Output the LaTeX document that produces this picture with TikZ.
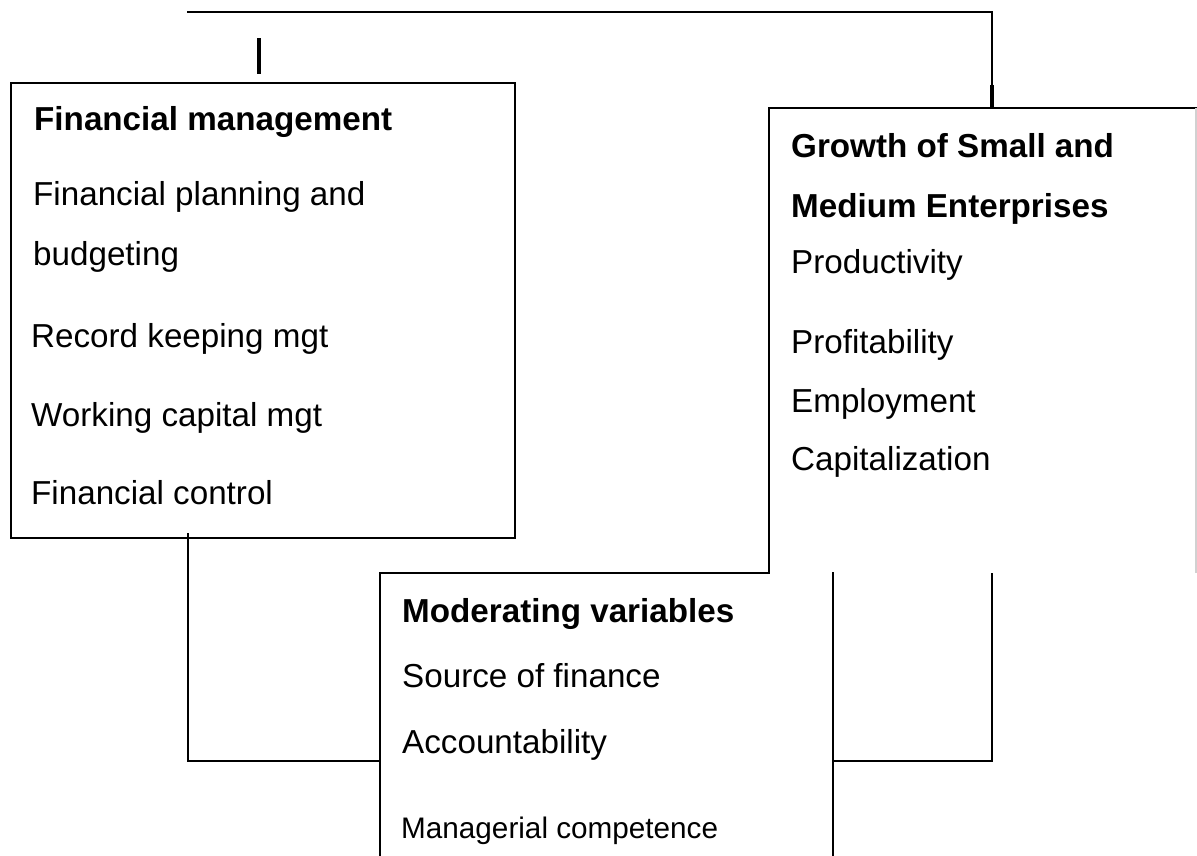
\documentclass[tikz,border=0pt]{standalone}
\usepackage{fontspec}
\setmainfont{Liberation Sans}
\begin{document}
\begin{tikzpicture}[x=1pt,y=-1pt,
  every node/.style={inner sep=0pt,anchor=base west},
  txt/.style={font=\fontsize{33.2}{38}\selectfont},
  head/.style={font=\fontsize{33.2}{38}\selectfont\bfseries},
  small/.style={font=\fontsize{29.7}{35}\selectfont},
  edge/.style={line width=2pt,line cap=rect},
  bar/.style={line width=4pt},
  faint/.style={line width=2pt,draw=black!18}]
\useasboundingbox (0,0) rectangle (1197,855);

% box corners
\coordinate (fmTL) at (11,83);
\coordinate (fmBR) at (515,538);
\coordinate (gTL) at (769,108);
\coordinate (gTR) at (1196,108);
\coordinate (gBL) at (769,573);
\coordinate (gBR) at (1196,573);
\coordinate (mTL) at (380,573);
\coordinate (mBL) at (380,855);
\coordinate (mTR) at (833,573);
\coordinate (mBR) at (833,855);

% Financial management box
\draw[edge] (fmTL) rectangle (fmBR);
\node[head] (fm0) at (34,130) {Financial management};
\node[txt]  (fm1) at (33,205) {Financial planning and};
\node[txt]  (fm2) at (33,265) {budgeting};
\node[txt]  (fm3) at (31,347) {Record keeping mgt};
\node[txt]  (fm4) at (31,426) {Working capital mgt};
\node[txt]  (fm5) at (31,504) {Financial control};

% Growth of SMEs box
\draw[edge] (gBL) -- (gTL) -- (gTR);
\draw[faint] (gTR) -- (gBR);
\node[head] (g0) at (791,157) {Growth of Small and};
\node[head] (g1) at (791,217) {Medium Enterprises};
\node[txt]  (g2) at (791,273) {Productivity};
\node[txt]  (g3) at (791,353) {Profitability};
\node[txt]  (g4) at (791,412) {Employment};
\node[txt]  (g5) at (791,470) {Capitalization};

% Moderating variables box
\draw[edge] (mBL) -- (mTL) -- (gBL);
\draw[edge] (mTR) -- (mBR);
\node[head] (m0) at (402,622) {Moderating variables};
\node[txt]  (m1) at (402,687) {Source of finance};
\node[txt]  (m2) at (402,753) {Accountability};
\node[small] (m3) at (401,838) {Managerial competence};

% connectors
\coordinate (topL) at (188,12);
\coordinate (topR) at (992,12);
\coordinate (gIn) at (992,108);
\coordinate (gInBar) at (992,85);
\draw[edge] (topL) -- (topR) -- (gIn);
\draw[bar] (gInBar) -- (gIn);

\coordinate (fmOut) at (188,534);
\coordinate (fmLow) at (188,761);
\coordinate (mInL) at (380,761);
\draw[edge] (fmOut) -- (fmLow) -- (mInL);

\coordinate (mOutR) at (833,761);
\coordinate (rLow) at (992,761);
\coordinate (rTop) at (992,574);
\draw[edge] (mOutR) -- (rLow) -- (rTop);

% short mark above the first box
\coordinate (markA) at (259,38);
\coordinate (markB) at (259,74);
\draw[bar] (markA) -- (markB);
\end{tikzpicture}
\end{document}
